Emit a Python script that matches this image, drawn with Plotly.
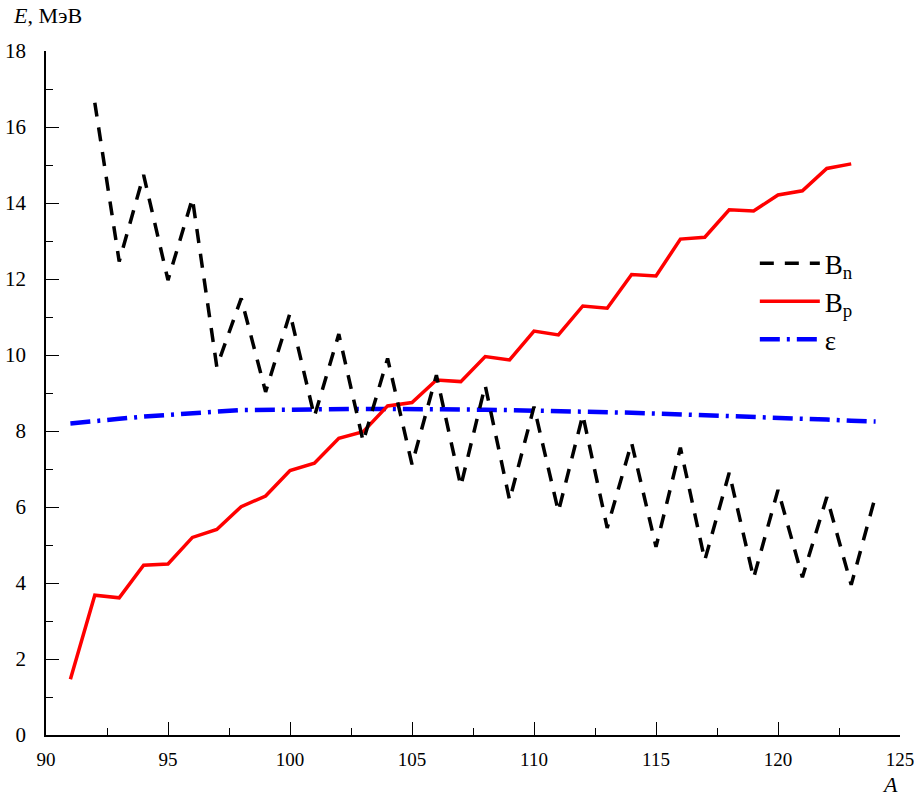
import plotly.graph_objects as go

A_n = list(range(92, 125))
B_n = [16.64, 12.46, 14.74, 11.97, 14.12, 9.69, 11.49, 9.03, 11.1, 8.38, 10.55,
       7.72, 9.91, 7.12, 9.47, 6.55, 9.2, 6.18, 8.64, 5.88, 8.42, 5.45, 7.69,
       4.95, 7.56, 4.6, 6.9, 4.13, 6.45, 4.15, 6.26, 3.95, 6.3]

A_p = list(range(91, 124))
B_p = [1.47, 3.68, 3.61, 4.47, 4.5, 5.2, 5.41, 6.01, 6.29, 6.96, 7.15, 7.81,
       7.98, 8.66, 8.75, 9.34, 9.3, 9.96, 9.87, 10.63, 10.53, 11.29, 11.23,
       12.12, 12.08, 13.05, 13.1, 13.82, 13.79, 14.21, 14.32, 14.91, 15.03]

A_e = list(range(91, 125))
eps = [8.2, 8.27, 8.32, 8.38, 8.43, 8.47, 8.51, 8.55, 8.56, 8.57, 8.58, 8.58,
       8.58, 8.58, 8.58, 8.58, 8.57, 8.56, 8.55, 8.54, 8.53, 8.51, 8.5, 8.48,
       8.46, 8.44, 8.42, 8.4, 8.38, 8.36, 8.33, 8.3, 8.27, 8.25]

x_ticks = [90, 95, 100, 105, 110, 115, 120, 125]
y_ticks = [0, 2, 4, 6, 8, 10, 12, 14, 16, 18]

FONT = "Liberation Serif, Times New Roman, serif"

fig = go.Figure()
fig.add_trace(go.Scatter(x=A_e, y=eps, mode="lines", name="ε", legendrank=3,
                         line=dict(color="#0000ff", width=4.5, dash="20px,7px,3px,7px")))
fig.add_trace(go.Scatter(x=A_p, y=B_p, mode="lines", name="B<sub>p</sub>", legendrank=2,
                         line=dict(color="#ff0000", width=3.5)))
fig.add_trace(go.Scatter(x=A_n, y=B_n, mode="lines", name="B<sub>n</sub>", legendrank=1,
                         line=dict(color="#000000", width=3.5, dash="14px,11px")))

fig.update_layout(
    width=914, height=797,
    margin=dict(l=46, r=14, t=51, b=62, autoexpand=False),
    paper_bgcolor="white", plot_bgcolor="white",
    font=dict(family=FONT, size=20, color="black"),
    showlegend=True,
    legend=dict(x=0.83, y=0.725, xanchor="left", yanchor="top",
                bgcolor="rgba(0,0,0,0)", font=dict(size=27, family=FONT),
                itemwidth=60, tracegroupgap=3),
    xaxis=dict(range=[90, 125], showgrid=False, zeroline=False, automargin=False,
               showline=True, linecolor="black", linewidth=1.5,
               tickmode="array", tickvals=x_ticks, ticktext=[str(v) for v in x_ticks],
               ticks="inside", ticklen=13, tickwidth=1, tickcolor="black",
               ticklabelstandoff=6, ticklabeloverflow="allow",
               minor=dict(ticks="inside", ticklen=7, tickwidth=1, tickcolor="black", dtick=2.5, tick0=90),
               tickfont=dict(size=19, family=FONT)),
    yaxis=dict(range=[0, 18], showgrid=False, zeroline=False, automargin=False,
               showline=True, linecolor="black", linewidth=1.5,
               tickmode="array", tickvals=y_ticks, ticktext=[str(v) for v in y_ticks],
               ticks="inside", ticklen=13, tickwidth=1, tickcolor="black",
               ticklabelstandoff=14, ticklabeloverflow="allow",
               minor=dict(ticks="inside", ticklen=7, tickwidth=1, tickcolor="black", dtick=1, tick0=0),
               tickfont=dict(size=21, family=FONT)),
    annotations=[
        dict(text="<i>E</i>, МэВ", xref="paper", yref="paper", x=-0.041, y=1.052,
             xanchor="left", yanchor="middle", showarrow=False,
             font=dict(size=22, family=FONT)),
        dict(text="<i>A</i>", xref="paper", yref="paper", x=1.0, y=-0.073,
             xanchor="right", yanchor="middle", showarrow=False,
             font=dict(size=22, family=FONT)),
    ],
)

fig.write_html("out.html")
